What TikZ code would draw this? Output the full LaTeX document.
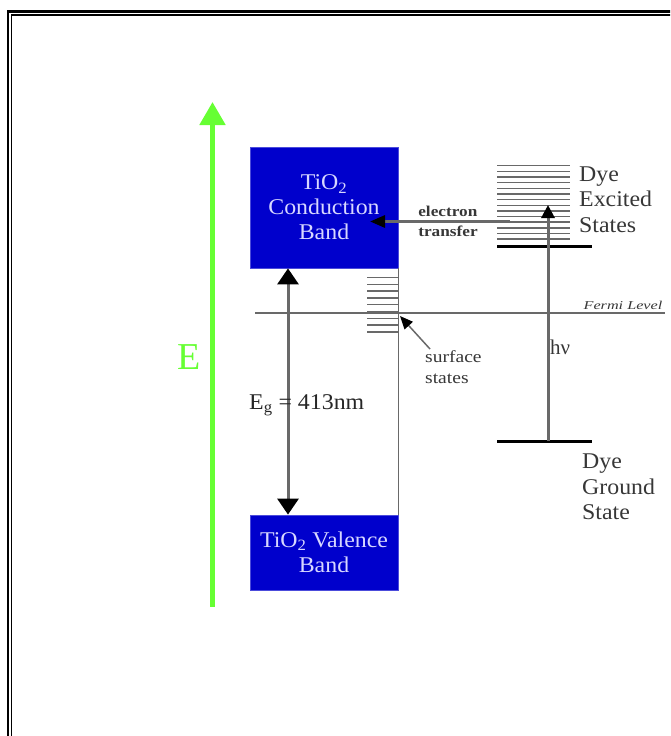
\documentclass[tikz,border=0pt]{standalone}
\usepackage{fontspec}
\setmainfont{Liberation Serif}
\newfontfamily\widefont[FakeStretch=1.35]{Liberation Serif}
\newfontfamily\midfont[FakeStretch=1.15]{Liberation Serif}
\newfontfamily\bandfont[FakeStretch=1.06]{Liberation Serif}
\usetikzlibrary{arrows.meta}
\definecolor{bandblue}{RGB}{0,0,204}
\definecolor{bandtext}{RGB}{215,215,255}
\definecolor{egreen}{RGB}{102,255,51}
\definecolor{lgray}{RGB}{105,105,105}
\definecolor{tgray}{RGB}{55,55,55}
\begin{document}
\begin{tikzpicture}[x=1pt,y=-1pt,
  band/.style={fill=bandblue,draw=bandblue!70!white,line width=0.8pt,text=bandtext,align=center,font=\bandfont\fontsize{22.5}{25}\selectfont,inner sep=0pt},
  lbl/.style={text=tgray,font=\bandfont\fontsize{22.5}{25.5}\selectfont,align=left,inner sep=0pt},
  thinline/.style={draw=lgray,line width=1.5pt},
  level/.style={draw=black,line width=3pt},
  shaft/.style={draw=lgray,line width=3pt},
]
\useasboundingbox (0,0) rectangle (670,736);
\clip (0,0) rectangle (670,736);
% page border (double line, top and left)
\draw[line width=2.6pt] (8,760) -- (8,11.3) -- (700,11.3);
\draw[line width=1.4pt] (11.7,760) -- (11.7,15) -- (700,15);

% energy axis
\coordinate (ebot) at (212.5,606.5);
\coordinate (etop) at (212.5,102);
\draw[egreen,line width=5pt,-{Triangle[width=25pt,length=23pt]}] (ebot) -- (etop);
\node[text=egreen,font=\fontsize{38}{38}\selectfont,inner sep=0pt] (E) at (189,357) {E};

% bands
\node[band,minimum width=148pt,minimum height=121pt] (cb) at (324,207.5) {TiO\textsubscript{2}\\Conduction\\Band};
\node[band,minimum width=148pt,minimum height=75pt] (vb) at (324,552.5) {TiO\textsubscript{2} Valence\\Band};
\draw[thinline] (cb.south east) -- (vb.north east);

% Fermi level
\coordinate (fl) at (255,313);
\coordinate (fr) at (665,313);
\draw[thinline] (fl) -- (fr);
\node[text=tgray,font=\widefont\itshape\fontsize{12}{12}\selectfont,inner sep=0pt] (fermi) at (623,305) {Fermi Level};

% surface states
\foreach \i in {0,...,8} \draw[thinline] ({367},{277.5+6.8*\i}) -- ({398},{277.5+6.8*\i});
\coordinate (sa) at (430,349);
\coordinate (st) at (400,316);
\draw[thinline,-{Triangle[width=11pt,length=13pt,color=black]}] (sa) -- (st);
\node[lbl,font=\midfont\fontsize{17}{21}\selectfont,anchor=west] (ss) at (425,367.5) {surface\\states};

% band gap arrow
\draw[shaft,{Triangle[width=21pt,length=16pt,color=black]}-{Triangle[width=21pt,length=16pt,color=black]}] ([xshift=-36pt]cb.south) -- ([xshift=-36pt]vb.north);
\node[lbl,anchor=west,text=black!85] (eg) at (249,405) {E\textsubscript{g} = 413nm};

% dye excited states
\foreach \i in {0,...,13} \draw[thinline] ({497},{165.7+5.65*\i}) -- ({570},{165.7+5.65*\i});
\coordinate (lumol) at (497,246.5);
\coordinate (lumor) at (592,246.5);
\draw[level] (lumol) -- (lumor);
\node[lbl,anchor=west] (dex) at (579,199.5) {Dye\\Excited\\States};

% dye ground state
\coordinate (gsl) at (497,441);
\coordinate (gsr) at (592,441);
\draw[level] (gsl) -- (gsr);
\node[lbl,anchor=west] (dgs) at (582,487) {Dye\\Ground\\State};

% excitation
\coordinate (gs) at (548,441);
\coordinate (hvtip) at (548,205);
\draw[shaft,-{Triangle[width=13pt,length=13pt,color=black]}] (gs) -- (hvtip);
\node[lbl,anchor=west,font=\fontsize{21}{21}\selectfont] (hv) at (550,347) {hν};

% electron transfer
\coordinate (etstart) at (510,221.5);
\coordinate (ettip) at (370,221.5);
\draw[shaft,-{Triangle[width=12pt,length=15pt,color=black]}] (etstart) -- (ettip);
\node[lbl,font=\midfont\bfseries\fontsize{15}{20.5}\selectfont,align=left] (et) at (448,221.5) {electron\\transfer};
\end{tikzpicture}
\end{document}
